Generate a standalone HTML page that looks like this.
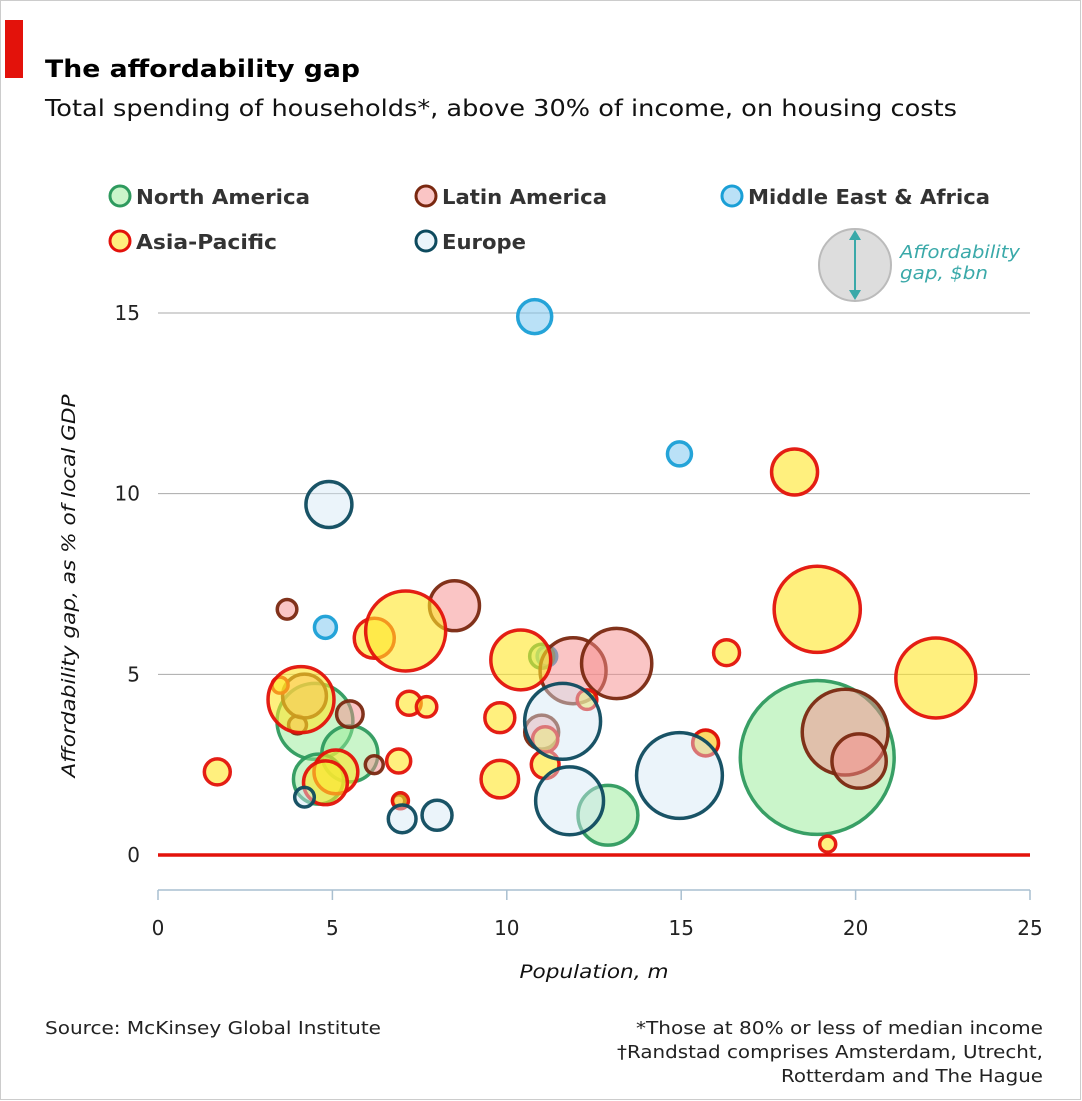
<!DOCTYPE html>
<html><head><meta charset="utf-8"><style>
body{margin:0;background:#fff}
svg{display:block;font-family:"DejaVu Sans","Liberation Sans",sans-serif}
</style></head><body>
<svg id="c" width="1082" height="1101" viewBox="0 0 1082 1101">
<rect x="0.5" y="0.5" width="1080" height="1099" fill="#fff" stroke="#ccc"/>
<rect x="5" y="20" width="18" height="58" fill="#e3120b"/>
<text x="45" y="77" font-size="24" font-weight="bold" fill="#000" textLength="315" lengthAdjust="spacingAndGlyphs">The affordability gap</text>
<text x="45" y="116" font-size="23" fill="#111" textLength="912" lengthAdjust="spacingAndGlyphs">Total spending of households*, above 30% of income, on housing costs</text>
<g id="legend"></g>
<g>
<circle cx="855" cy="265" r="36" fill="#ddd" stroke="#bbb" stroke-width="2"/>
<line x1="855" y1="234" x2="855" y2="296" stroke="#3aa9a9" stroke-width="2"/>
<path d="M849,240 L855,230 L861,240Z M849,290 L855,300 L861,290Z" fill="#3aa9a9"/>
<text x="900" y="258" font-size="18" font-style="italic" fill="#3aa9a9" textLength="120" lengthAdjust="spacingAndGlyphs">Affordability</text>
<text x="900" y="279" font-size="18" font-style="italic" fill="#3aa9a9" textLength="88" lengthAdjust="spacingAndGlyphs">gap, $bn</text>
</g>
<g id="grid"></g>
<g id="bubbles"></g>
<g id="axes"></g>
<text x="45" y="1034" font-size="18" fill="#222" textLength="336" lengthAdjust="spacingAndGlyphs">Source: McKinsey Global Institute</text>
<text x="1043" y="1034" font-size="18" fill="#222" text-anchor="end" textLength="407" lengthAdjust="spacingAndGlyphs">*Those at 80% or less of median income</text>
<text x="1043" y="1058" font-size="18" fill="#222" text-anchor="end" textLength="426" lengthAdjust="spacingAndGlyphs">†Randstad comprises Amsterdam, Utrecht,</text>
<text x="1043" y="1082" font-size="18" fill="#222" text-anchor="end" textLength="262" lengthAdjust="spacingAndGlyphs">Rotterdam and The Hague</text>
</svg>
<script>
const regionNames=["North America","Latin America","Middle East & Africa","Asia-Pacific","Europe"];
const regionFill=["rgba(150,235,150,0.5)","rgba(245,140,140,0.5)","rgba(130,200,240,0.55)","rgba(255,230,40,0.6)","rgba(210,230,245,0.45)"];
const regionStroke=["#2e9a5e","#7a2810","#1a9fd6","#e3120b","#0d4a5e"];
// bubble data: region index, population (m), gap % of GDP, gap $bn
const region=[2,2,2,2, 0,0,0,0,0,0, 1,1,1,1,1,1,1,1,1,1,1,1,1, 3,3,3,3,3,3,3,3,3,3,3,3,3,3,3,3,3,3,3,3,3,3,3];
const population=[10.8,14.95,4.8,11.15, 4.5,5.5,4.6,12.9,18.9,11.0, 3.7,8.5,5.5,4.0,6.2,11.9,13.15,19.7,20.1,6.9,11.0,15.7,4.2,
 1.7,3.5,4.1,6.2,7.1,7.2,7.7,10.4,9.8,9.8,11.1,5.1,4.8,19.2,18.9,22.3,16.3,15.7,18.25,11.1,12.3,6.9,6.95];
const gdpPct=[14.9,11.1,6.3,5.5, 3.7,2.8,2.1,1.1,2.7,5.5, 6.8,6.9,3.9,3.6,2.5,5.1,5.3,3.4,2.6,1.5,3.4,3.1,4.4,
 2.3,4.7,4.3,6.0,6.2,4.2,4.1,5.4,3.8,2.1,2.5,2.3,2.0,0.3,6.8,4.9,5.6,3.1,10.6,3.2,4.3,2.6,1.5];
const gapBn=[18,9,7.5,6, 90,49,39,56,370, 9, 6,39,11,5,5,68,77,115,46,2.3,18,10,30,
 10.5,4,68,25,100,9,6.5,56,14,22,12,30,30,4,116,100,10.5,10.5,33,10,6,9,4];
const europeX=[4.9,4.2,7.0,8.0,11.8,14.95,11.6];
const europeY=[9.7,1.6,1.0,1.1,1.5,2.2,3.7];
const europeGap=[33,6,12,14,72,115,90];
for(let i=0;i<europeX.length;i++){population.push(europeX[i]);gdpPct.push(europeY[i]);gapBn.push(europeGap[i]);}
const xTicks=[0,5,10,15,20,25];
const yTicks=[0,5,10,15];

const NS="http://www.w3.org/2000/svg";
const X0=158,X1=1030,Y0=855,Y15=313;
const xs=v=>X0+(X1-X0)*v/25;
const ys=v=>Y0-(Y0-Y15)*v/15;
const rs=v=>4*Math.sqrt(v);
function mk(tag,attrs,parent,txt){const e=document.createElementNS(NS,tag);for(const k in attrs)e.setAttribute(k,attrs[k]);if(txt!==undefined)e.textContent=txt;parent.appendChild(e);return e;}

const grid=document.getElementById('grid');
yTicks.forEach(t=>{
  if(t>0){const l=mk('line',{x1:X0,x2:X1,y1:ys(t),y2:ys(t),stroke:'#aaa','stroke-width':1},grid);
  
  }
  const tx=mk('text',{x:140,y:ys(t)+7,'font-size':20,'text-anchor':'end',fill:'#222'},grid,String(t));
  
  
});

const bg=document.getElementById('bubbles');
for(let i=0;i<population.length;i++){
  const r=i<region.length?region[i]:4;
  const c=mk('circle',{cx:xs(population[i]),cy:ys(gdpPct[i]),r:rs(gapBn[i]),fill:regionFill[r],stroke:regionStroke[r],'stroke-width':3.5,'stroke-opacity':0.95},bg);
  
  
}

const ax=document.getElementById('axes');
const zl=mk('line',{x1:X0,x2:X1,y1:Y0,y2:Y0,stroke:'#e3120b','stroke-width':3.5},ax);


const xa=mk('line',{x1:X0,x2:X1,y1:890,y2:890,stroke:'#a9bfd0','stroke-width':1.5},ax);


xTicks.forEach(t=>{
  mk('line',{x1:xs(t),x2:xs(t),y1:890,y2:900,stroke:'#a9bfd0','stroke-width':1.5},ax);
  const tx=mk('text',{x:xs(t),y:935,'font-size':20,'text-anchor':'middle',fill:'#222'},ax,String(t));
  
  
});
const xt=mk('text',{x:594,y:978,'font-size':19,'font-style':'italic','text-anchor':'middle',fill:'#111',textLength:149,lengthAdjust:'spacingAndGlyphs'},ax,'Population, m');


const yt=mk('text',{x:0,y:0,'font-size':19,'font-style':'italic','text-anchor':'middle',fill:'#111',textLength:383,lengthAdjust:'spacingAndGlyphs',transform:'translate(75,586) rotate(-90)'},ax,'Affordability gap, as % of local GDP');



const lg=document.getElementById('legend');
const lpos=[[0,120,196,174],[1,426,196,165],[2,732,196,242],[3,120,241,141],[4,426,241,84]];
lpos.forEach(p=>{
  const g=mk('g',{},lg);
  
  
  mk('circle',{cx:p[1],cy:p[2],r:10,fill:regionFill[p[0]],stroke:regionStroke[p[0]],'stroke-width':3},g);
  mk('text',{x:p[1]+16,y:p[2]+8,'font-size':20,'font-weight':'bold',fill:'#333',textLength:p[3],lengthAdjust:'spacingAndGlyphs'},g,regionNames[p[0]]);
});
</script>
</body></html>
